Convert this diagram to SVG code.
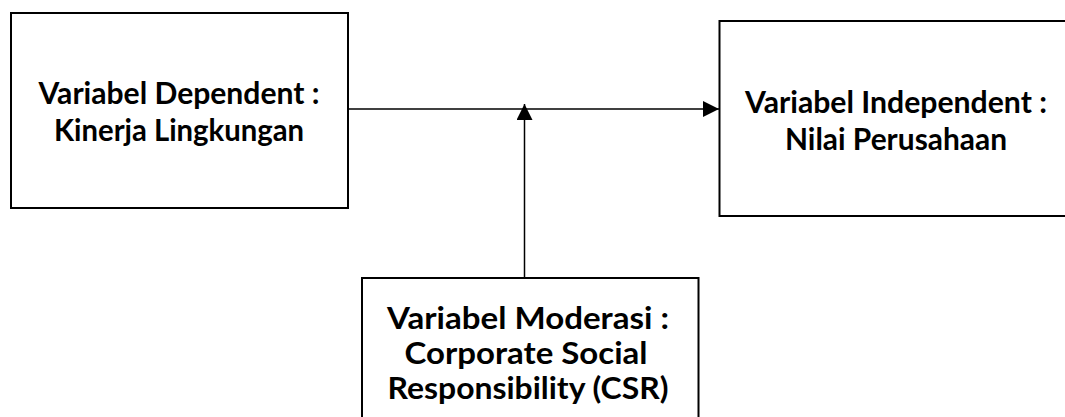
<svg xmlns="http://www.w3.org/2000/svg" width="1065" height="417" viewBox="0 0 1065 417">
  <style>
    .box { fill: #ffffff; stroke: #000000; stroke-width: 2; }
    .lbl { font-family: Lato, "Liberation Sans", sans-serif; font-weight: bold; font-size: 31px; fill: #000000; text-anchor: middle; }
    .wire { fill: none; stroke: #000000; stroke-width: 1.5; }
  </style>
  <defs>
    <marker id="head" viewBox="0 0 16 16" refX="16" refY="8" markerWidth="16" markerHeight="16" markerUnits="userSpaceOnUse" orient="auto">
      <path d="M0,0 L16,8 L0,16 Z" fill="#000000"/>
    </marker>
  </defs>
  <rect width="1065" height="417" fill="#ffffff"/>

  <g id="connectors">
    <line class="wire" x1="348" y1="109" x2="719" y2="109" marker-end="url(#head)"/>
    <line class="wire" x1="524.5" y1="278" x2="524.5" y2="104" marker-end="url(#head)"/>
  </g>

  <g id="node-dependent">
    <rect class="box" x="11" y="13" width="337" height="195"/>
    <text class="lbl" x="179" y="104" textLength="281" lengthAdjust="spacingAndGlyphs">Variabel Dependent :</text>
    <text class="lbl" x="179" y="141" textLength="250" lengthAdjust="spacingAndGlyphs">Kinerja Lingkungan</text>
  </g>

  <g id="node-independent">
    <rect class="box" x="719.5" y="21" width="360" height="195"/>
    <text class="lbl" x="896" y="113" textLength="302" lengthAdjust="spacingAndGlyphs">Variabel Independent :</text>
    <text class="lbl" x="896" y="150" textLength="222" lengthAdjust="spacingAndGlyphs">Nilai Perusahaan</text>
  </g>

  <g id="node-moderator">
    <rect class="box" x="362" y="278" width="336.5" height="160"/>
    <text class="lbl" x="528" y="329" textLength="282" lengthAdjust="spacingAndGlyphs">Variabel Moderasi :</text>
    <text class="lbl" x="526" y="364" textLength="243" lengthAdjust="spacingAndGlyphs">Corporate Social</text>
    <text class="lbl" x="528" y="399" textLength="281" lengthAdjust="spacingAndGlyphs">Responsibility (CSR)</text>
  </g>
</svg>
